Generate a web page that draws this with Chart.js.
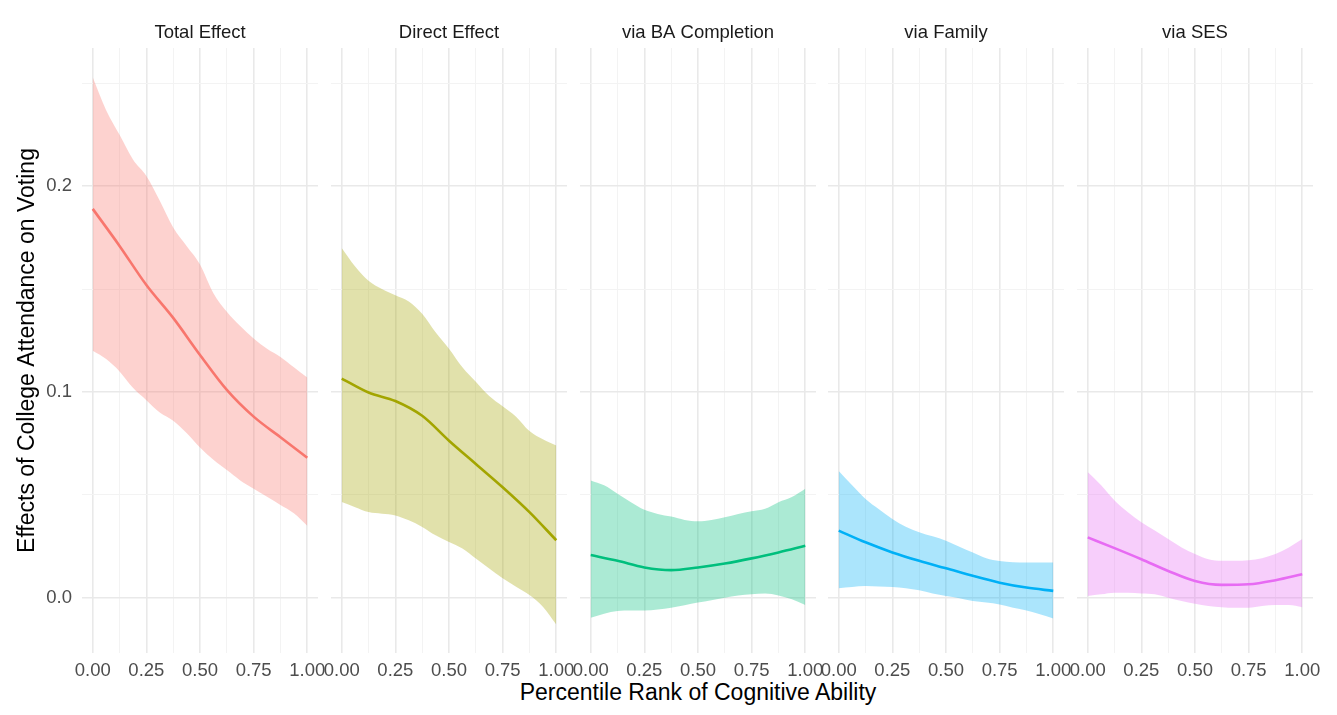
<!DOCTYPE html>
<html>
<head>
<meta charset="utf-8">
<script src="https://cdn.jsdelivr.net/npm/chart.js@4/dist/chart.umd.min.js"></script>
<style>
  html, body { margin: 0; padding: 0; background: #ffffff; }
  #wrap { position: relative; width: 1337px; height: 715px; overflow: hidden; background: #ffffff; }
  #wrap canvas { position: absolute; top: 0; }
  #xtitle {
    position: absolute; left: 398px; width: 600px; top: 679px;
    font-family: 'Liberation Sans', Arial, Helvetica, sans-serif;
    font-size: 23px; line-height: 27.6px; text-align: center; color: #000000;
    white-space: nowrap;
  }
</style>
</head>
<body>
<div id="wrap"><div id="xtitle"></div></div>
<script>
// Facet titles and colours
const panelTitles = ['Total Effect', 'Direct Effect', 'via BA Completion', 'via Family', 'via SES'];
const seriesColors = ['#F8766D', '#A3A500', '#00BF7D', '#00B0F6', '#E76BF3'];

// Percentile positions where the fitted line and the interval band are given
const lineX = [0, 0.125, 0.25, 0.375, 0.5, 0.625, 0.75, 0.875, 1];
const ribbonX = [0, 0.0625, 0.125, 0.1875, 0.25, 0.3125, 0.375, 0.4375, 0.5,
                 0.5625, 0.625, 0.6875, 0.75, 0.8125, 0.875, 0.9375, 1];

// Axis ticks
const xMajorTicks = [0, 0.25, 0.5, 0.75, 1];
const xMinorTicks = [0.125, 0.375, 0.625, 0.875];
const yMajorTicks = [0, 0.1, 0.2];
const yMinorTicks = [0.05, 0.15, 0.25];

// Total effect
const totalFit = [0.189, 0.171, 0.152, 0.136, 0.118, 0.101, 0.088, 0.078, 0.068];
const totalUpper = [0.253, 0.237, 0.225, 0.213, 0.205, 0.193, 0.180, 0.171, 0.162,
                    0.148, 0.139, 0.132, 0.126, 0.121, 0.117, 0.112, 0.107];
const totalLower = [0.120, 0.116, 0.110, 0.102, 0.096, 0.090, 0.086, 0.080, 0.073,
                    0.067, 0.062, 0.057, 0.053, 0.049, 0.045, 0.041, 0.035];

// Direct effect
const directFit = [0.1065, 0.0997, 0.0956, 0.0884, 0.0763, 0.065, 0.0537, 0.0416, 0.0279];
const directUpper = [0.170, 0.161, 0.154, 0.150, 0.147, 0.144, 0.138, 0.129, 0.121,
                     0.112, 0.105, 0.098, 0.093, 0.088, 0.081, 0.077, 0.074];
const directLower = [0.0465, 0.044, 0.0416, 0.0408, 0.040, 0.0376, 0.0344, 0.0303, 0.0271,
                     0.0239, 0.019, 0.0142, 0.0094, 0.0053, 0.0013, -0.0044, -0.0130];

// Indirect effect via BA completion
const baFit = [0.0207, 0.0179, 0.0147, 0.0134, 0.0147, 0.0166, 0.0191, 0.022, 0.0252];
const baUpper = [0.057, 0.0546, 0.0505, 0.0464, 0.0427, 0.0407, 0.0394, 0.0378, 0.0371,
                 0.0378, 0.0391, 0.0407, 0.042, 0.0432, 0.0464, 0.0489, 0.0529];
const baLower = [-0.0098, -0.0078, -0.0065, -0.0062, -0.0062, -0.0057, -0.0049, -0.0037, -0.0024,
                 -0.0013, 0.0, 0.0011, 0.0016, 0.002, 0.0011, -0.0008, -0.0036];

// Indirect effect via family
const familyFit = [0.0326, 0.0269, 0.022, 0.0179, 0.0143, 0.0106, 0.0073, 0.0049, 0.0033];
const familyUpper = [0.0616, 0.0546, 0.0480, 0.0430, 0.0383, 0.0345, 0.0318, 0.0298, 0.0277,
                     0.0248, 0.0220, 0.0192, 0.0178, 0.0172, 0.0171, 0.0171, 0.0171];
const familyLower = [0.0046, 0.0052, 0.0057, 0.0054, 0.0052, 0.0046, 0.0036, 0.002, 0.0008,
                     -0.0003, -0.0016, -0.0024, -0.0033, -0.0049, -0.0062, -0.0081, -0.0101];

// Indirect effect via SES
const sesFit = [0.0293, 0.0241, 0.0187, 0.013, 0.0081, 0.0062, 0.0065, 0.0085, 0.0114];
const sesUpper = [0.0611, 0.0546, 0.0472, 0.0415, 0.0366, 0.0326, 0.0285, 0.0244, 0.0212,
                  0.0187, 0.0179, 0.0179, 0.0182, 0.0192, 0.0212, 0.0244, 0.0285];
const sesLower = [0.0008, 0.0016, 0.0024, 0.0024, 0.002, 0.0016, 0.0, -0.0016, -0.0029,
                  -0.0041, -0.0046, -0.0049, -0.0049, -0.0041, -0.0036, -0.0036, -0.0046];

const panelFits = [totalFit, directFit, baFit, familyFit, sesFit];
const panelUppers = [totalUpper, directUpper, baUpper, familyUpper, sesUpper];
const panelLowers = [totalLower, directLower, baLower, familyLower, sesLower];

const yTitle = 'Effects of College Attendance on Voting';
const xTitle = 'Percentile Rank of Cognitive Ability';

// ---- layout ----
const FONT = "'Liberation Sans', Arial, Helvetica, sans-serif";
const CANVAS_H = 715;
const PANEL_W = 236;
const panelLefts = [82, 331, 580, 828, 1077];
const SIDE_PAD = 20;
const Y_AXIS_W = 82;
const X_AXIS_H = 62;

function withAlpha(hex, a) {
  const n = parseInt(hex.slice(1), 16);
  return `rgba(${(n >> 16) & 255}, ${(n >> 8) & 255}, ${n & 255}, ${a})`;
}
function points(xs, ys) { return xs.map((x, i) => ({ x: x, y: ys[i] })); }
function isMultiple(v, step) { const r = v / step; return Math.abs(r - Math.round(r)) < 1e-7; }

const majorGrid = '#e9e9e9', minorGrid = '#f3f3f3';

const wrap = document.getElementById('wrap');
document.getElementById('xtitle').textContent = xTitle;

panelTitles.forEach((title, i) => {
  const first = i === 0;
  const canvas = document.createElement('canvas');
  const left = first ? 0 : panelLefts[i] - SIDE_PAD;
  const width = first ? panelLefts[0] + PANEL_W + SIDE_PAD : PANEL_W + 2 * SIDE_PAD;
  canvas.width = width;
  canvas.height = CANVAS_H;
  canvas.style.left = left + 'px';
  canvas.style.width = width + 'px';
  canvas.style.height = CANVAS_H + 'px';
  wrap.appendChild(canvas);

  const color = seriesColors[i];

  new Chart(canvas, {
    type: 'line',
    data: {
      datasets: [
        {
          label: 'upper',
          data: points(ribbonX, panelUppers[i]),
          borderWidth: 0,
          borderColor: 'rgba(0,0,0,0)',
          backgroundColor: withAlpha(color, 0.33),
          fill: '+1',
          pointRadius: 0,
          cubicInterpolationMode: 'monotone',
          order: 2
        },
        {
          label: 'lower',
          data: points(ribbonX, panelLowers[i]),
          borderWidth: 0,
          borderColor: 'rgba(0,0,0,0)',
          fill: false,
          pointRadius: 0,
          cubicInterpolationMode: 'monotone',
          order: 2
        },
        {
          label: 'fit',
          data: points(lineX, panelFits[i]),
          borderColor: color,
          borderWidth: 2.6,
          fill: false,
          pointRadius: 0,
          cubicInterpolationMode: 'monotone',
          order: 0
        }
      ]
    },
    options: {
      responsive: false,
      animation: false,
      devicePixelRatio: 1,
      layout: {
        padding: { left: first ? 0 : SIDE_PAD, right: SIDE_PAD, top: 0, bottom: 0 }
      },
      plugins: {
        legend: { display: false },
        tooltip: { enabled: false },
        filler: { drawTime: 'beforeDatasetsDraw' },
        title: {
          display: true,
          fullSize: false,
          text: title,
          color: '#1a1a1a',
          font: { family: FONT, size: 18.5, weight: 'normal', lineHeight: 1.2 },
          padding: { top: 21.5, bottom: 4.3 }
        }
      },
      scales: {
        x: {
          type: 'linear',
          min: -0.05,
          max: 1.05,
          afterBuildTicks: (scale) => {
            scale.ticks = xMajorTicks.concat(xMinorTicks).sort((a, b) => a - b).map(v => ({ value: v }));
          },
          afterFit: (scale) => { scale.height = X_AXIS_H; },
          border: { display: false },
          grid: {
            drawTicks: false,
            color: (ctx) => (ctx.tick && isMultiple(ctx.tick.value, 0.25)) ? majorGrid : minorGrid,
            lineWidth: (ctx) => (ctx.tick && isMultiple(ctx.tick.value, 0.25)) ? 1.6 : 1
          },
          ticks: {
            autoSkip: false,
            maxRotation: 0,
            minRotation: 0,
            padding: 7,
            color: '#4d4d4d',
            font: { family: FONT, size: 18.5 },
            callback: (v) => isMultiple(v, 0.25) ? Number(v).toFixed(2) : ''
          }
        },
        y: {
          type: 'linear',
          min: -0.0269,
          max: 0.2672,
          afterBuildTicks: (scale) => {
            scale.ticks = yMajorTicks.concat(yMinorTicks).sort((a, b) => a - b).map(v => ({ value: v }));
          },
          afterFit: (scale) => { scale.width = first ? Y_AXIS_W : 0; },
          border: { display: false },
          grid: {
            drawTicks: false,
            color: (ctx) => (ctx.tick && isMultiple(ctx.tick.value, 0.1)) ? majorGrid : minorGrid,
            lineWidth: (ctx) => (ctx.tick && isMultiple(ctx.tick.value, 0.1)) ? 1.6 : 1
          },
          ticks: {
            display: first,
            autoSkip: false,
            padding: 10,
            color: '#4d4d4d',
            font: { family: FONT, size: 18.5 },
            callback: (v) => isMultiple(v, 0.1) ? Number(v).toFixed(1) : ''
          },
          title: {
            display: first,
            text: yTitle,
            color: '#000000',
            font: { family: FONT, size: 23 },
            padding: { top: 14, bottom: 0 }
          }
        }
      }
    }
  });
});
</script>
</body>
</html>
